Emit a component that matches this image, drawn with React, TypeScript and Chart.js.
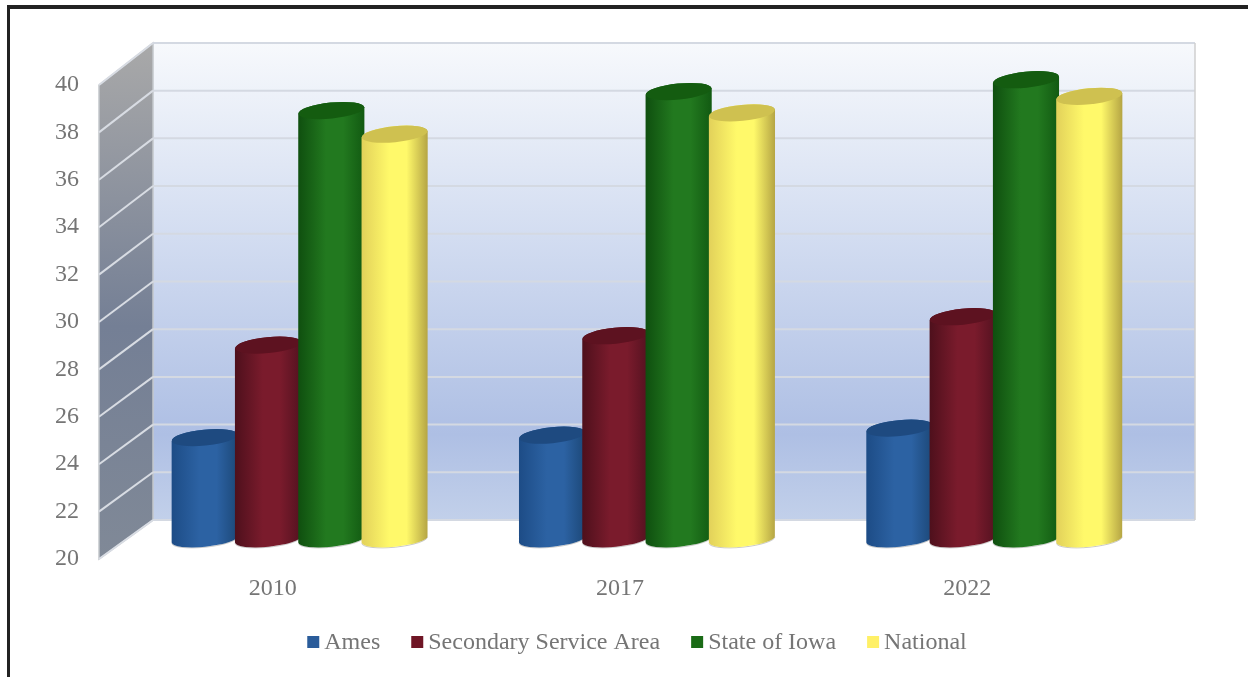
import React, { useEffect, useRef } from "react";
import { Chart, registerables } from "chart.js";

Chart.register(...registerables);

const years = ["2010", "2017", "2022"];
const seriesNames = ["Ames", "Secondary Service Area", "State of Iowa", "National"];
const ames = [24.3, 24.4, 24.7];
const secondary = [28.2, 28.6, 29.4];
const iowa = [38.1, 38.9, 39.4];
const national = [37.1, 38.0, 38.7];

// left edge, highlight, right edge and cap colour of each cylinder series
const leftColors = ["#1d4c86", "#4e101c", "#0f4f0f", "#e2d15a"];
const midColors = ["#2c62a3", "#7a1b2c", "#22791f", "#fff96a"];
const rightColors = ["#1c4878", "#541220", "#125a12", "#b5a544"];
const capColors = ["#1e4a80", "#5d1220", "#145c10", "#cfc150"];
const legendColors = ["#2a5c9a", "#6f1525", "#1a6b16", "#fff066"];

const FONT = '"Liberation Serif", serif';
const TEXT = "#757575";
const DEPTH_X = 54;
const DEPTH_Y = 39;
// the back wall is drawn slightly taller than the front plane
const BACK_STRETCH = 1.0065;

const scene3d = {
  id: "scene3d",
  beforeDraw(chart: any) {
    const { ctx, width, height } = chart;
    ctx.save();
    ctx.fillStyle = "#ffffff";
    ctx.fillRect(0, 0, width, height);
    // outer frame, open at the right and bottom
    ctx.fillStyle = "#222222";
    ctx.fillRect(7, 5, width - 7, 4);
    ctx.fillRect(7, 5, 3, height - 5);
    ctx.restore();
  },
  beforeDatasetsDraw(chart: any) {
    const { ctx, chartArea: a, scales } = chart;
    const yScale = scales.y;
    const backL = a.left + DEPTH_X;
    const backR = a.right + DEPTH_X;
    const backB = a.bottom - DEPTH_Y;
    const toBack = (y: number) => backB - (a.bottom - y) * BACK_STRETCH;
    const backT = toBack(a.top);
    ctx.save();

    // back wall
    const wall = ctx.createLinearGradient(0, backT, 0, backB);
    wall.addColorStop(0, "#f7f9fc");
    wall.addColorStop(0.4, "#d3ddf1");
    wall.addColorStop(0.82, "#aebfe4");
    wall.addColorStop(1, "#c2d0ea");
    ctx.fillStyle = wall;
    ctx.fillRect(backL, backT, backR - backL, backB - backT);

    // side wall
    const side = ctx.createLinearGradient(0, backT, 0, a.bottom);
    side.addColorStop(0, "#a9a9a9");
    side.addColorStop(0.55, "#747f95");
    side.addColorStop(1, "#808997");
    ctx.fillStyle = side;
    ctx.beginPath();
    ctx.moveTo(a.left, a.top);
    ctx.lineTo(backL, backT);
    ctx.lineTo(backL, backB);
    ctx.lineTo(a.left, a.bottom);
    ctx.closePath();
    ctx.fill();
    ctx.strokeStyle = "#c4c7cc";
    ctx.lineWidth = 1.5;
    ctx.stroke();

    // gridlines run across the side wall, then along the back wall
    yScale.ticks.forEach((t: any) => {
      const y = yScale.getPixelForValue(t.value);
      const yb = toBack(y);
      ctx.strokeStyle = "#d8dce3";
      ctx.lineWidth = 2;
      ctx.beginPath();
      ctx.moveTo(a.left, y);
      ctx.lineTo(backL, yb);
      ctx.stroke();
      ctx.strokeStyle = "#d4d9e2";
      ctx.beginPath();
      ctx.moveTo(backL, yb);
      ctx.lineTo(backR, yb);
      ctx.stroke();
    });
    ctx.strokeStyle = "#cfcfcf";
    ctx.lineWidth = 1.5;
    ctx.beginPath();
    ctx.moveTo(backR, backT);
    ctx.lineTo(backR, backB);
    ctx.stroke();

    // cylinders, left to right so that later series sit on top
    chart.data.labels.forEach((_: string, c: number) => {
      chart.data.datasets.forEach((_d: any, s: number) => {
        const el = chart.getDatasetMeta(s).data[c];
        drawCylinder(ctx, el.x + DEPTH_X / 2, el.y - DEPTH_Y / 2, el.base - DEPTH_Y / 2, el.width * 1.045, s);
      });
    });

    ctx.restore();
  },
  // the cylinders above replace the flat bars
  beforeDatasetDraw() {
    return false;
  },
  afterDraw(chart: any) {
    const { ctx } = chart;
    ctx.save();
    ctx.font = `24px ${FONT}`;
    ctx.textBaseline = "middle";
    const box = 12;
    const gap = 5;
    const spacing = 31;
    const widths = seriesNames.map((n) => ctx.measureText(n).width);
    const total = widths.reduce((p, w) => p + w + box + gap, 0) + spacing * (widths.length - 1);
    let x = 637 - total / 2;
    seriesNames.forEach((n, i) => {
      ctx.fillStyle = legendColors[i];
      ctx.fillRect(x, 636, box, box);
      ctx.fillStyle = TEXT;
      ctx.fillText(n, x + box + gap, 643);
      x += box + gap + widths[i] + spacing;
    });
    ctx.restore();
  },
};

function drawCylinder(ctx: any, cx: number, topY: number, baseY: number, w: number, s: number) {
  const rx = w / 2;
  const capRy = 8;
  const baseRy = 7.2;
  const rot = -0.1;
  const drop = rx * Math.sin(rot);
  const grad = ctx.createLinearGradient(cx - rx, 0, cx + rx, 0);
  grad.addColorStop(0, leftColors[s]);
  grad.addColorStop(0.42, midColors[s]);
  grad.addColorStop(0.68, midColors[s]);
  grad.addColorStop(1, rightColors[s]);

  // soft contact line under the base
  ctx.strokeStyle = "rgba(120,120,120,0.4)";
  ctx.lineWidth = 1;
  ctx.beginPath();
  ctx.ellipse(cx, baseY + 0.5, rx, baseRy, rot, 0, Math.PI);
  ctx.stroke();

  ctx.fillStyle = grad;
  ctx.beginPath();
  ctx.moveTo(cx - rx, topY - drop);
  ctx.lineTo(cx - rx, baseY - drop);
  ctx.ellipse(cx, baseY, rx, baseRy, rot, Math.PI, 0, true);
  ctx.lineTo(cx + rx, topY + drop);
  ctx.ellipse(cx, topY, rx, capRy, rot, 0, Math.PI, true);
  ctx.closePath();
  ctx.fill();

  ctx.fillStyle = capColors[s];
  ctx.beginPath();
  ctx.ellipse(cx, topY, rx, capRy, rot, 0, Math.PI * 2);
  ctx.fill();
}

export default function App() {
  const ref = useRef<HTMLCanvasElement>(null);
  useEffect(() => {
    const chart = new Chart(ref.current as HTMLCanvasElement, {
      type: "bar",
      data: {
        labels: years,
        datasets: [
          { label: seriesNames[0], data: ames, backgroundColor: legendColors[0] },
          { label: seriesNames[1], data: secondary, backgroundColor: legendColors[1] },
          { label: seriesNames[2], data: iowa, backgroundColor: legendColors[2] },
          { label: seriesNames[3], data: national, backgroundColor: legendColors[3] },
        ],
      },
      options: {
        responsive: false,
        animation: false,
        layout: { padding: { left: 0, right: 107, top: 85, bottom: 0 } },
        plugins: { legend: { display: false }, tooltip: { enabled: false } },
        datasets: { bar: { barPercentage: 1, categoryPercentage: 0.729, base: 20 } },
        scales: {
          x: {
            grid: { display: false, drawTicks: false },
            border: { display: false },
            ticks: { color: TEXT, font: { family: FONT, size: 24 }, padding: 15 },
            afterFit: (s: any) => { s.height = 118; },
          },
          y: {
            min: 20,
            max: 40,
            grid: { display: false, drawTicks: false },
            border: { display: false },
            ticks: { stepSize: 2, color: TEXT, font: { family: FONT, size: 24 }, padding: 20 },
            afterFit: (s: any) => { s.width = 99; },
          },
        },
      } as any,
      plugins: [scene3d as any],
    });
    return () => chart.destroy();
  }, []);
  return (
    <div style={{ position: "fixed", left: 0, top: 0 }}>
      <canvas ref={ref} width={1248} height={677} style={{ display: "block" }} />
    </div>
  );
}
